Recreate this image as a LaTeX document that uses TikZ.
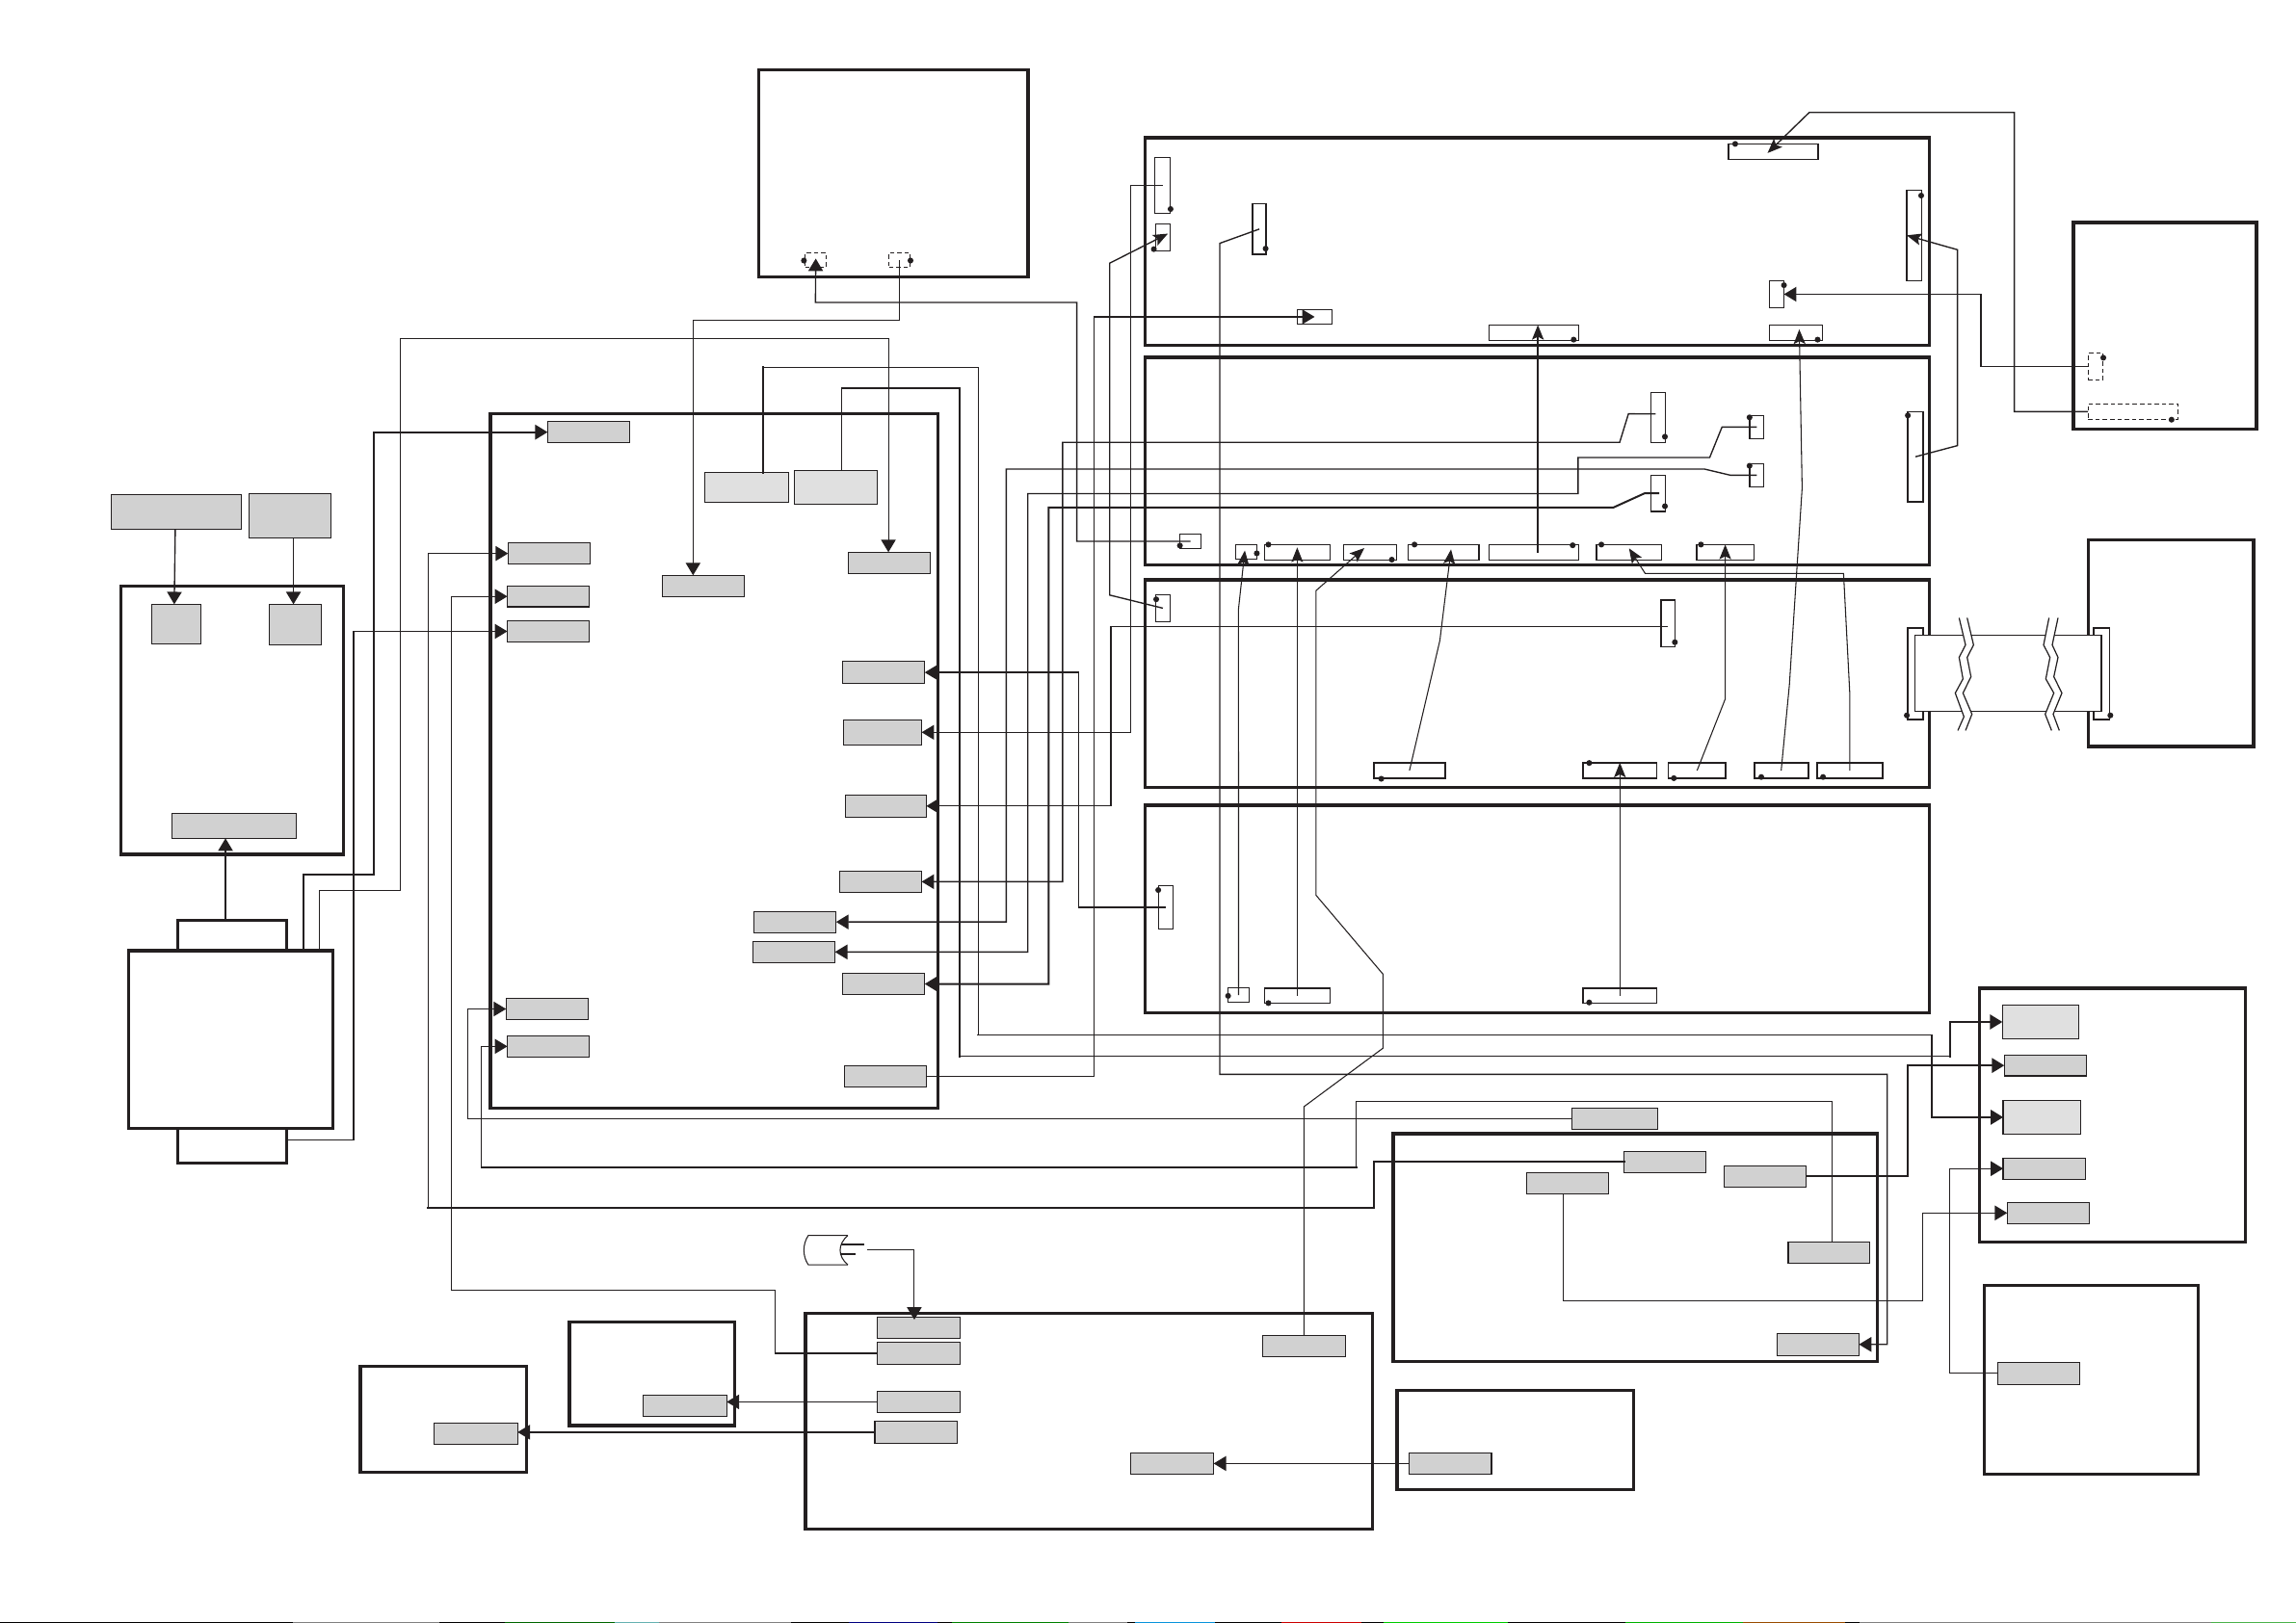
\documentclass[tikz,border=0pt]{standalone}
\usetikzlibrary{arrows.meta}
\definecolor{ink}{HTML}{231F20}
\definecolor{gbox}{HTML}{D1D1D1}
\definecolor{lbox}{HTML}{E0E0E0}
\tikzset{
  shell/.style={draw=ink,line width=2.2pt,inner sep=0pt,outer sep=0pt},
  grayb/.style={draw=ink,line width=0.8pt,fill=gbox,inner sep=0pt,outer sep=0pt},
  lightb/.style={draw=ink,line width=0.8pt,fill=lbox,inner sep=0pt,outer sep=0pt},
  port/.style={draw=ink,line width=0.9pt,inner sep=0pt,outer sep=0pt},
  portw/.style={draw=ink,line width=1.3pt,inner sep=0pt,outer sep=0pt},
  dashport/.style={draw=ink,line width=0.8pt,dash pattern=on 3pt off 2pt,inner sep=0pt,outer sep=0pt},
  whitep/.style={draw=ink,line width=1.2pt,fill=white,inner sep=0pt,outer sep=0pt},
  wiret/.style={draw=ink,line width=0.7pt},
  wire/.style={draw=ink,line width=0.9pt},
  wirew/.style={draw=ink,line width=1.3pt,line cap=rect},
  tip/.style={-{Triangle[length=8.5pt,width=10pt]}},
  stip/.style={-{Stealth[length=10pt,width=8pt,inset=2pt]}}
}
\newcommand{\bx}[6][]{%
  \pgfmathsetmacro{\bxw}{#5-#3}\pgfmathsetmacro{\bxh}{#6-#4}%
  \node[#1,anchor=north west,minimum width=\bxw pt,minimum height=\bxh pt] (#2) at (#3,#4) {};}
\newcommand{\pin}[2]{\fill[ink] (#1,#2) circle (2pt);}
\newcommand{\strip}[3]{\fill[#3] (#1,1108) rectangle (#2,1108.7);}
\begin{document}
\begin{tikzpicture}[x=1pt,y=-1pt]
\useasboundingbox (0,0) rectangle (1568,1108.7);
% edge strip of the scan
\strip{0}{1568}{black}
\strip{200}{300}{gray}\strip{345}{420}{green!40!black}\strip{420}{450}{teal!60}\strip{450}{540}{gray}
\strip{580}{640}{blue!50!black}\strip{650}{730}{green!50!black}\strip{730}{770}{gray}\strip{775}{830}{cyan!80!blue}
\strip{875}{930}{red!80!black}\strip{945}{1030}{green!80!black}\strip{1110}{1190}{green!70!black}\strip{1190}{1260}{orange!60!black}
\strip{1270}{1568}{gray}\strip{1510}{1568}{green!40!gray}
% shells
\bx[shell]{boxA}{518}{47.6}{702}{189}
\bx[shell]{panelA}{782}{94}{1317.5}{236}
\bx[shell]{panelB}{782}{244}{1317.5}{386}
\bx[shell]{panelC}{782}{396}{1317.5}{538}
\bx[shell]{panelD}{782}{550}{1317.5}{692}
\bx[shell]{boxR}{1416}{152}{1541}{293}
\bx[shell]{boxS}{1426}{369}{1539}{510}
\bx[shell]{boxT}{1352}{675}{1533.3}{848.5}
\bx[shell]{boxU}{1355}{878}{1501}{1007}
\bx[shell]{boxM}{335}{282.5}{640.5}{757}
\bx[shell]{boxL}{82.5}{400.5}{234.7}{583.7}
\bx[shell]{boxV}{951.5}{774.5}{1282}{930}
\bx[shell]{boxW}{550}{897}{937.5}{1044.5}
\bx[shell]{boxX}{954}{950}{1115.5}{1017.7}
\bx[shell]{boxY}{388.8}{903}{501.6}{973.8}
\bx[shell]{boxZ}{246}{933.5}{359.4}{1005.8}
\bx[shell]{tabt}{121.5}{628.7}{195.6}{649.5}
\bx[shell]{tabb}{121.5}{770.7}{195.6}{794.3}
\bx[shell]{mainl}{88}{649.5}{227.2}{770.7}
% left gray
\bx[grayb]{la}{76.1}{337.8}{164.7}{361.4}
\bx[grayb]{lb}{170}{337.2}{226.1}{367.4}
\bx[grayb]{lc}{103.5}{412.8}{137.3}{439.8}
\bx[grayb]{ld}{183.8}{412.8}{219.5}{440.5}
\bx[grayb]{le}{117.3}{555.7}{202.4}{572.7}
% M gray
\bx[grayb]{g1}{374}{288}{430}{302.4}
\bx[lightb]{g2}{481.2}{322.8}{538.8}{343}
\bx[lightb]{g3}{542.6}{321.5}{599}{344.3}
\bx[grayb]{g4}{347}{370.9}{403.2}{385.3}
\bx[grayb]{g5}{346.5}{400.4}{402.4}{414.5}
\bx[grayb]{g6}{346.5}{423.9}{402.4}{438.7}
\bx[grayb]{g7}{452.3}{393}{508.5}{407.4}
\bx[grayb]{g8}{579.4}{377.2}{635.4}{391.7}
\bx[grayb]{g9}{575.3}{451.8}{631.5}{466.9}
\bx[grayb]{g10}{576.2}{491.7}{629.4}{508.8}
\bx[grayb]{g11}{577.2}{543}{632.6}{558.2}
\bx[grayb]{g12}{573.4}{595.1}{629.4}{609.5}
\bx[grayb]{g13}{514.8}{622.6}{571}{637}
\bx[grayb]{g14}{514.2}{643.1}{570.2}{657.5}
\bx[grayb]{g15}{575.3}{664.9}{631.5}{679.4}
\bx[grayb]{g16}{345.6}{682}{401.8}{696.5}
\bx[grayb]{g17}{346.5}{707.6}{402.4}{722}
\bx[grayb]{g18}{576.7}{728}{632.6}{742.5}
% right gray
\bx[lightb]{r1}{1367.5}{686.7}{1419.5}{709.5}
\bx[grayb]{r2}{1368.8}{720.7}{1424.8}{735}
\bx[lightb]{r3}{1368}{751.8}{1420.8}{774.6}
\bx[grayb]{r4}{1368}{791}{1424}{805.6}
\bx[grayb]{r5}{1370.8}{821.3}{1426.7}{835.9}
\bx[grayb]{r6}{1364.2}{930.6}{1420.2}{945.6}
% V gray
\bx[grayb]{b1}{1073.5}{756.9}{1132.3}{771.4}
\bx[grayb]{b2}{1109.2}{786.5}{1165}{801}
\bx[grayb]{b3}{1042.4}{801}{1098.7}{815.4}
\bx[grayb]{b4}{1177.6}{796.4}{1233.4}{810.8}
\bx[grayb]{b5}{1221.2}{848.3}{1276.6}{862.8}
\bx[grayb]{b6}{1213.7}{910.8}{1269.5}{926}
% W gray
\bx[grayb]{c1}{599.1}{899.7}{655.5}{914.4}
\bx[grayb]{c2}{599.1}{916.8}{655.5}{932.1}
\bx[grayb]{c3}{599.1}{950.3}{655.5}{965}
\bx[grayb]{c4}{597.4}{970.7}{653.7}{986}
\bx[grayb]{c5}{772.4}{992.4}{828.8}{1007.1}
\bx[grayb]{c6}{862.3}{912.2}{918.7}{926.9}
\bx[grayb]{c7}{962.2}{992.4}{1018.6}{1007.1}
\bx[grayb]{c8}{439.3}{952.9}{496.3}{967.7}
\bx[grayb]{c9}{296.6}{972}{353.5}{986.7}
% ports panel A
\bx[port]{p1a}{1180.5}{98.3}{1241.7}{108.8}
\bx[port]{p1b}{1302.1}{129.8}{1312.3}{191.7}
\bx[port]{p1c}{1208.4}{191.9}{1218.3}{210.1}
\bx[port]{p1d}{885.9}{211.6}{909.7}{221.3}
\bx[port]{p1e}{1017}{222}{1078.1}{232.5}
\bx[port]{p1f}{1208.4}{222}{1244.7}{232.5}
\bx[port]{p1g}{788.8}{107.5}{799}{145.6}
\bx[port]{p1h}{789.2}{152.9}{799}{171.3}
\bx[port]{p1i}{855.3}{139.3}{864.7}{173.7}
% ports panel B
\bx[port]{p2a}{1127.6}{268}{1137.4}{302.2}
\bx[port]{p2b}{1194.8}{283.8}{1204.6}{299.6}
\bx[port]{p2c}{1194.8}{316.7}{1204.6}{332.5}
\bx[port]{p2d}{1127.6}{324.6}{1137.4}{349.4}
\bx[port]{p2e}{1302.9}{281.2}{1313.4}{342.8}
\bx[port]{p2f}{805.8}{365}{820.2}{374.6}
\bx[port]{s1}{844}{372.2}{858.3}{381.9}
\bx[port]{s2}{863.6}{372}{908.2}{382.8}
\bx[port]{s3}{917.6}{372}{953.9}{382.8}
\bx[port]{s4}{961.8}{372}{1010.1}{382.8}
\bx[port]{s5}{1017}{372}{1078.1}{382.8}
\bx[port]{s6}{1090.2}{372}{1134.8}{382.8}
\bx[port]{s7}{1158.6}{372}{1197.8}{382.8}
% ports panel C
\bx[port]{p3a}{789.2}{406.3}{799}{424.6}
\bx[port]{p3b}{1134.4}{410}{1143.8}{441.8}
\bx[portw]{p3c}{938.4}{521}{986.7}{531.8}
\bx[portw]{p3d}{1081.1}{521}{1131.4}{531.8}
\bx[portw]{p3e}{1139.3}{521}{1178.6}{531.8}
\bx[portw]{p3f}{1197.9}{521}{1234.9}{531.8}
\bx[portw]{p3g}{1240.9}{521}{1285.5}{531.8}
% ports panel D
\bx[port]{p4a}{791.4}{605.1}{800.9}{634.5}
\bx[port]{p4b}{838.7}{674.9}{853}{684.5}
\bx[port]{p4c}{863.6}{675}{908.2}{685.2}
\bx[port]{p4d}{1081.1}{675}{1131.4}{685.2}
% dashed ports
\bx[dashport]{a1}{549.9}{172.6}{564.3}{182.7}
\bx[dashport]{a2}{607.1}{172.6}{621.4}{182.7}
\bx[dashport]{rd1}{1426}{241.4}{1436.2}{259.6}
\bx[dashport]{rd2}{1426}{276}{1487.5}{286.4}
% cable
\bx[whitep]{cl}{1302.6}{428.8}{1313.6}{491.7}
\bx[whitep]{cr}{1429.6}{428.8}{1440.6}{491.7}
\node[draw=ink,line width=0.8pt,fill=white,inner sep=0pt,outer sep=0pt,anchor=north west,minimum width=127.1pt,minimum height=52pt] (cable) at (1307.9,433.8) {};
\draw[ink,line width=1.4pt] (1435,433.8) -- (1435,485.8);
\begin{scope}[shift={(1250.2,65.8)},x=0.2193pt,y=-0.2937pt]
 \fill[white] (400,1213)--(420,1276)--(400,1305)--(412,1355)--(388,1388)--(415,1443)--(396,1475)--(420,1475)--(440,1437)--(412,1388)--(437,1350)--(425,1305)--(445,1276)--(425,1213)--cycle;
 \fill[white] (680,1213)--(663,1276)--(683,1305)--(670,1355)--(695,1388)--(668,1437)--(688,1475)--(712,1475)--(693,1437)--(720,1388)--(695,1350)--(708,1305)--(690,1276)--(708,1213)--cycle;
 \draw[ink,line width=0.8pt] (400,1213)--(420,1276)--(400,1305)--(412,1355)--(388,1388)--(415,1443)--(396,1475);
 \draw[ink,line width=0.8pt] (425,1213)--(445,1276)--(425,1305)--(437,1350)--(412,1388)--(440,1437)--(420,1475);
 \draw[ink,line width=0.8pt] (680,1213)--(663,1276)--(683,1305)--(670,1355)--(695,1388)--(668,1437)--(688,1475);
 \draw[ink,line width=0.8pt] (708,1213)--(690,1276)--(708,1305)--(695,1350)--(720,1388)--(693,1437)--(712,1475);
\end{scope}
% cylinder
\draw[ink,line width=0.7pt] (579,844) -- (552,844) .. controls (548,850) and (548,858) .. (552,864) -- (579,864);
\draw[ink,line width=0.7pt] (579,844) .. controls (572,850) and (572,858) .. (579,864);
\draw[ink,line width=1.3pt] (574.4,850.1) -- (590.3,850.1);
\draw[ink,line width=1.3pt] (574.4,856.5) -- (584.4,856.5);
\coordinate (cyl) at (592,853.6);
% wires
\draw[wire,tip] (119.7,0 |- la.south) -- (119,0 |- lc.north);
\draw[wire,tip] (200.4,0 |- lb.south) -- (200.4,0 |- ld.north);
\draw[wire,tip] (154,0 |- tabt.north) -- (154,0 |- le.south);
\draw[wirew,tip] (207.2,0 |- mainl.north) -- (207.2,597.6) -- (255.3,597.6) -- (255.3,0 |- g1.west) -- (g1.west);
\draw[wiret,tip] (218.2,0 |- mainl.north) -- (218.2,608.6) -- (273.5,608.6) -- (273.5,231.4) -- (606.7,231.4) -- (606.7,0 |- g8.north);
\draw[wire,tip] ([yshift=3.6pt]tabb.east) -- (241.5,778.9) -- (241.5,0 |- g6.west) -- (g6.west);
\draw[wirew] (b2.west) -| (938,824.9) -- (292.3,824.9);
\draw[wire,tip] (292.3,824.9) -- (292.3,0 |- g4.west) -- (g4.west);
\draw[wire,tip] (c2.west) -- (529.2,0 |- c2.west) -- (529.2,881.5) -- (308.2,881.5) -- (308.2,0 |- g5.west) -- (g5.west);
\draw[wire,tip] (b1.west) -- (319.5,0 |- b1.west) -- (319.5,0 |- g16.west) -- (g16.west);
\draw[wiret] (1251,0 |- b5.north) -- (1251,752.3) -- (926.2,752.3) -- (926.2,797.5);
\draw[wirew] (926.2,797.5) -- (328.8,797.5);
\draw[wire,tip] (328.8,797.5) -- (328.8,0 |- g17.west) -- (g17.west);
\draw[wirew] (521.3,0 |- g2.north) -- (521.3,251);
\draw[wire] (521.3,251) -- (668,251) -- (668,707);
\draw[wirew,tip] (668,707) -- (1319,707) -- (1319,0 |- r3.west) -- (r3.west);
\draw[wire] (574.8,0 |- g3.north) -- (574.8,265);
\draw[wirew] (574.8,265) -- (655.5,265) -- (655.5,721.5);
\draw[wire] (655.5,721.5) -- (1332,721.5);
\draw[wirew,tip] (1332,721.5) -- (1332,0 |- r1.west) -- (r1.west);
\draw[wirew,tip] (b4.east) -- (1302.6,0 |- b4.east) -- (1302.6,0 |- r2.west) -- (r2.west);
\draw[wire,tip] (1067.6,0 |- b3.south) -- (1067.6,888.7) -- (1313.1,888.7) -- (1313.1,0 |- r5.west) -- (r5.west);
\draw[wire,tip] (r6.west) -- (1331.3,0 |- r6.west) -- (1331.3,0 |- r4.west) -- (r4.west);
\draw[wire,tip] (p1i.center) -- (833,166.2) -- (833,733.9) -- (1288.8,733.9) -- (1288.8,0 |- b6.east) -- (b6.east);
\draw[wire,tip] (p1g.center) -- (772.3,0 |- p1g.center) -- (772.3,0 |- g10.east) -- (g10.east);
\draw[wire,tip] (g18.east) -- (747.2,0 |- g18.east) -- (747.2,0 |- p1d.center) -- (p1d.center);
\draw[wire,stip] (p3a.center) -- (757.8,406.5) -- (757.8,179.8) -- ([xshift=3.5pt,yshift=2.5pt]p1h.center);
\draw[wire,tip] ([yshift=-2.3pt]p3b.center) -- (758.6,428.2) -- (758.6,0 |- g11.east) -- (g11.east);
\draw[wire,tip] (p4a.center) -- (736.6,0 |- p4a.center) -- (736.6,0 |- g9.east) -- (g9.east);
\draw[wiret,tip] (a2.center) |- (473.3,218.6) -- (473.3,0 |- g7.north);
\draw[wire,tip] (p2f.center) -- (735.4,0 |- p2f.center) -- (735.4,206.6) -- (556.9,206.6) -- ([yshift=1pt]a1.center);
\draw[wire,tip] ([xshift=-1.9pt,yshift=2.3pt]p2a.center) -- (1112.1,282.7) -- (1106.1,302.2) -- (725.7,302.2) -- (725.7,0 |- g12.east) -- (g12.east);
\draw[wire,tip] (p2b.center) -- (1176,291.7) -- (1167.6,312.5) -- (1077.7,312.5) -- (1077.7,337.2) -- (701.9,337.2) -- (701.9,0 |- g14.east) -- (g14.east);
\draw[wire,tip] (p2c.center) -- (1181.6,324.6) -- (1163.9,320.4) -- (687.2,320.4) -- (687.2,0 |- g13.east) -- (g13.east);
\draw[wirew,tip] (p2d.center) -- (1123.1,337) -- (1102,346.6) -- (716.1,346.6) -- (716.1,0 |- g15.east) -- (g15.east);
\draw[wiret,tip] (cyl) -- (624.4,853.6) -- (624.4,901.5);
\draw[wire,tip] (c3.west) -- (c8.east |- c3.west);
\draw[wire,tip] (c4.west) -- (c9.east |- c4.west);
\draw[wire,tip] (c7.west) -- (c5.east);
\draw[wiret,stip] (c6.north) -- (890.5,756) -- (944.5,716) -- (944.5,665.5) -- (898.7,611.5) -- (898.7,403.5) -- ([xshift=-4pt,yshift=3pt]s3.center);
\draw[wire,stip] (rd2.west) -- (1375.6,0 |- rd2.west) -- (1375.6,76.8) -- (1235.6,76.8) -- ([xshift=-4pt,yshift=-1pt]p1a.center);
\draw[wire,tip] (rd1.west) -- (1352.8,0 |- rd1.west) -- (1352.8,0 |- p1c.east) -- (p1c.east);
\draw[wire,stip] (p2e.center) -- (1336.8,304.4) -- (1336.8,170.6) -- (p1b.west);
\draw[wire,stip] ([xshift=2.7pt]s5.center) -- ([xshift=2.7pt]p1e.north);
\draw[wiret,stip] (p3f.center) -- (1222,468) -- (1230.7,333.4) -- ([xshift=2.2pt,yshift=-3pt]p1f.north);
\draw[wiret,stip] (p4b.center) -- (845.8,416) -- ([xshift=-1pt,yshift=1pt]s1.center);
\draw[wiret,stip] (p4c.center) -- ([yshift=-2pt]s2.north);
\draw[wiret,stip] (p3c.center) -- (983.3,437.6) -- ([xshift=5pt,yshift=-3.3pt]s4.north);
\draw[wiret,stip] (p3g.center) -- (1263.2,472.8) -- (1259,391.7) -- (1123.5,391.7) -- ([yshift=-2.6pt]s6.north);
\draw[wiret,stip] (p3e.center) -- (1178.2,477.5) -- (s7.north);
\draw[wiret,stip] (p4d.center) -- (p3d.north);
% pins
\pin{549}{178}\pin{621.8}{178}
\pin{1185}{98.3}\pin{1312}{133.6}\pin{1218.3}{194.8}\pin{1074.7}{232}\pin{1241.3}{232}
\pin{799.4}{142.8}\pin{788}{170.2}\pin{864.3}{169.8}
\pin{1137}{298.3}\pin{1194.8}{285.1}\pin{1194.8}{318.2}\pin{1137}{345.8}\pin{1302.9}{283.8}\pin{805.8}{372.7}
\pin{858.3}{378}\pin{866.2}{372}\pin{950.5}{382.3}\pin{966}{372}\pin{1074}{372.5}\pin{1093.6}{372}\pin{1161.6}{372}
\pin{789.6}{409.4}\pin{1143.8}{438.7}\pin{943.3}{532}\pin{1085.3}{521.2}\pin{1143.1}{531.6}\pin{1202.8}{530.8}\pin{1245}{530.8}
\pin{791}{608}\pin{838.7}{680.3}\pin{866.2}{685.2}\pin{1085.3}{684.8}
\pin{1436.4}{244.4}\pin{1483}{286.7}\pin{1302.2}{488.7}\pin{1441.2}{488.7}
\end{tikzpicture}
\end{document}
